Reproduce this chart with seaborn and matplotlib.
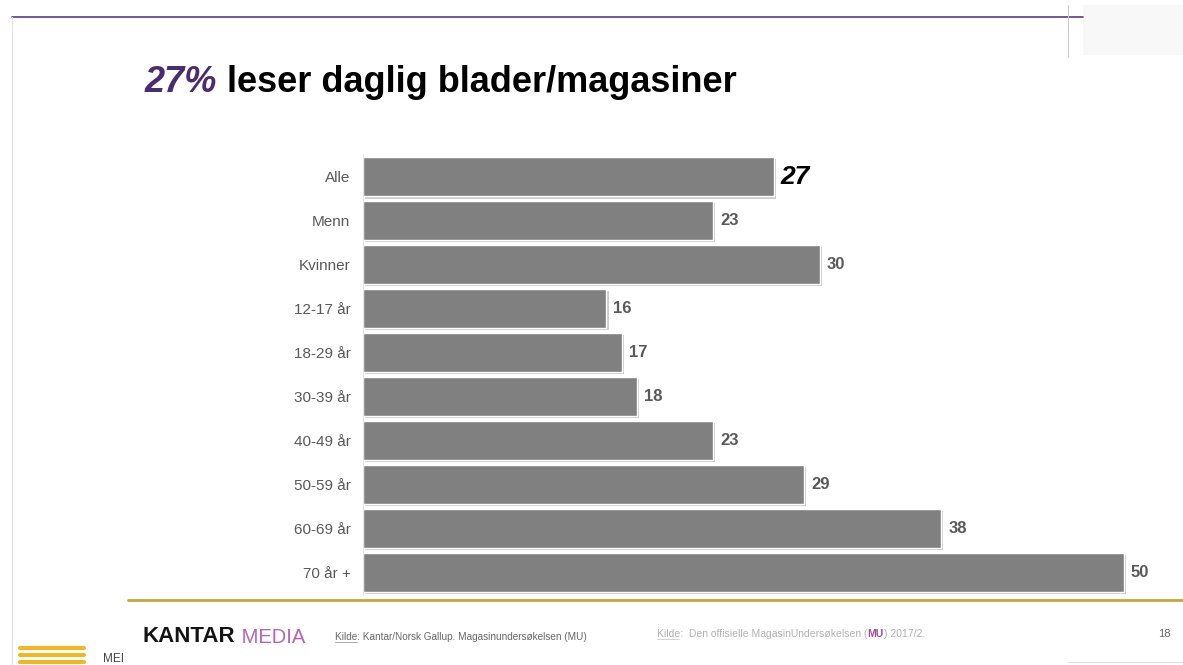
import matplotlib
matplotlib.use("Agg")
import matplotlib.pyplot as plt
import matplotlib.patheffects as pe
from matplotlib.patches import Rectangle
import seaborn as sns
import pandas as pd

# ---- data ----
categories = ["Alle", "Menn", "Kvinner", "12-17 år", "18-29 år", "30-39 år",
              "40-49 år", "50-59 år", "60-69 år", "70 år +"]
values = [27, 23, 30, 16, 17, 18, 23, 29, 38, 50]
value_labels = [str(v) for v in values]
title_highlight = "27%"
title_rest = " leser daglig blader/magasiner"
source_left = "Kilde: Kantar/Norsk Gallup. Magasinundersøkelsen (MU)"
source_right_a = "Kilde:  Den offisielle MagasinUndersøkelsen ("
source_right_b = "MU"
source_right_c = ") 2017/2."
page_number = "18"

sns.set_theme(style="white")
plt.rcParams['font.family'] = ['Liberation Sans', 'DejaVu Sans']

W, H = 1183, 665
fig = plt.figure(figsize=(W / 100, H / 100), dpi=100)
fig.patch.set_facecolor('white')

# background axes in pixel coordinates for decorations
bg = fig.add_axes([0, 0, 1, 1])
bg.set_xlim(0, W)
bg.set_ylim(H, 0)
bg.axis('off')

# main chart axes
ax = fig.add_axes([363 / W, 1 - 594 / H, (1160 - 363) / W, (594 - 155) / H])
ax.patch.set_alpha(0)
df = pd.DataFrame({"Gruppe": categories, "Andel": values})
sns.barplot(data=df, y="Gruppe", x="Andel", orient='h', color='#808080',
            saturation=1, width=0.89, ax=ax)
for p in ax.patches:
    p.set_path_effects([pe.SimplePatchShadow(offset=(1.5, -1.5),
                                             shadow_rgbFace='#6e6e6e', alpha=0.35),
                        pe.Normal()])

ax.set_xlim(0, 52.37)
ax.set_ylim(len(categories) - 0.5, -0.5)
ax.set_xticks([])
ax.set_xlabel('')
ax.set_ylabel('')
for s in ['top', 'right', 'bottom']:
    ax.spines[s].set_visible(False)
ax.spines['left'].set_color('#e4e4e4')
ax.spines['left'].set_linewidth(0.8)
ax.tick_params(axis='y', length=0, pad=9, labelsize=11, labelcolor='#595959')

texts = ax.bar_label(ax.containers[0], labels=value_labels, padding=5,
                     fontsize=12, fontweight='bold', color='#595959')
texts[0].set_fontsize(19)
texts[0].set_color('black')
texts[0].set_fontstyle('italic')

# ---- title ----
t1 = bg.text(145, 92, title_highlight, fontsize=26, fontweight='bold',
             fontstyle='italic', color='#4b2c6f', va='baseline', ha='left')
bg.annotate(title_rest, xy=(1, 0), xycoords=t1, va='bottom', ha='left',
            fontsize=26, fontweight='bold', color='black')

# ---- top decorations ----
bg.add_patch(Rectangle((1083, 5), 100, 50, color='#f8f8f8', zorder=0, lw=0))
bg.plot([12, 1083], [17, 17], color='#5b3a80', lw=1.2)
bg.plot([1068, 1068], [5, 57], color='#cccccc', lw=0.8)
bg.plot([12, 12], [17, 665], color='#e2e2e2', lw=0.8)

# ---- footer ----
bg.plot([128, 1183], [600, 600], color='#c9a43a', lw=2)
k1 = bg.text(143, 642, "KANTAR", fontsize=16, fontweight='bold', color='#141414',
             va='baseline', ha='left')
bg.annotate(" MEDIA", xy=(1, 0), xycoords=k1, va='bottom', ha='left',
            fontsize=14.5, color='#b566b3')

bg.text(335, 640, source_left, fontsize=7.2, color='#666666', va='baseline', ha='left')
bg.plot([335, 357], [642, 642], color='#888888', lw=0.5)

s1 = bg.text(657, 637, source_right_a, fontsize=7.5, color='#b0b0b0', va='baseline', ha='left')
s2 = bg.annotate(source_right_b, xy=(1, 0), xycoords=s1, va='bottom', ha='left',
                 fontsize=7.5, color='#a04ca0', fontweight='bold')
bg.annotate(source_right_c, xy=(1, 0), xycoords=s2, va='bottom', ha='left',
            fontsize=7.5, color='#b0b0b0')
bg.plot([657, 679], [639, 639], color='#c0c0c0', lw=0.5)

bg.text(1158, 637, page_number, fontsize=8, color='#666666', va='baseline', ha='left')

for yy in [648, 655, 662]:
    bg.plot([20, 84], [yy, yy], color='#ecb82a', lw=3, solid_capstyle='round')
bg.text(103, 662, "MEI", fontsize=8.5, color='#444444', va='baseline', ha='left')
bg.plot([1068, 1183], [662, 662], color='#dddddd', lw=0.8)

fig.savefig("out.png", dpi=100, facecolor='white')
